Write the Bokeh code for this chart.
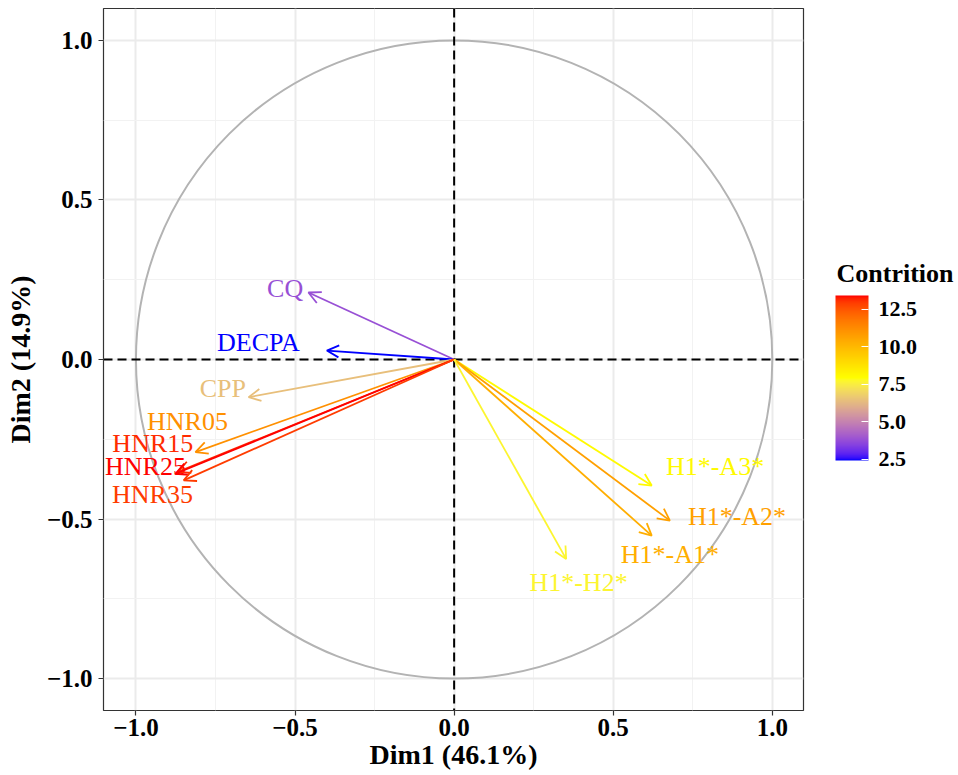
import numpy as np
from bokeh.plotting import figure
from bokeh.layouts import row
from bokeh.models import (ColumnDataSource, Range1d, FixedTicker, ColorBar,
                          LinearColorMapper, Arrow, OpenHead, Span, Label,
                          CustomJSTickFormatter)
from bokeh.transform import linear_cmap
from bokeh.core.properties import value
from bokeh.embed import file_html
from bokeh.resources import INLINE

# Variable coordinates on the first two PCA dimensions
variables = ["CQ", "DECPA", "CPP", "HNR05", "HNR15", "HNR25", "HNR35",
             "H1*-A3*", "H1*-A2*", "H1*-A1*", "H1*-H2*"]
dim1 = [-0.458, -0.400, -0.646, -0.813, -0.868, -0.876, -0.850,
        0.621, 0.678, 0.621, 0.352]
dim2 = [0.210, 0.028, -0.118, -0.290, -0.352, -0.358, -0.379,
        -0.395, -0.505, -0.552, -0.625]
# Contribution of each variable to Dim1-Dim2 (%)
contrib = [3.78, 2.40, 6.43, 11.1, 13.1, 13.4, 12.9,
           8.07, 10.65, 10.3, 7.67]

# Label anchors (repelled text positions)
label_x = [-0.531, -0.615, -0.727, -0.838, -0.947, -0.970, -0.948,
           0.820, 0.889, 0.678, 0.391]
label_y = [0.224, 0.054, -0.092, -0.193, -0.263, -0.335, -0.423,
           -0.335, -0.492, -0.611, -0.700]

axis_ticks = [-1.0, -0.5, 0.0, 0.5, 1.0]
axis_minor = [-0.75, -0.25, 0.25, 0.75]
legend_ticks = [2.5, 5.0, 7.5, 10.0, 12.5]
legend_title = "Contrition"
gradient_stops = ["#0000FF", "#FFFF00", "#FF0000"]

FONT = "Liberation Serif"
HEIGHT = 775
FRAME_H = 702   # panel height (775 - top 8 - bottom 65)


# ---- colour gradient interpolated in CIE Lab (like scales::gradient_n_pal)
def _hex_to_rgb(h):
    h = h.lstrip("#")
    return np.array([int(h[i:i + 2], 16) / 255.0 for i in (0, 2, 4)])


_M = np.array([[0.4124564, 0.3575761, 0.1804375],
               [0.2126729, 0.7151522, 0.0721750],
               [0.0193339, 0.1191920, 0.9503041]])
_MI = np.linalg.inv(_M)
_WHITE = _M @ np.ones(3)


def _rgb_to_lab(rgb):
    lin = np.where(rgb <= 0.04045, rgb / 12.92, ((rgb + 0.055) / 1.055) ** 2.4)
    xyz = (_M @ lin) / _WHITE
    f = np.where(xyz > 216 / 24389, np.cbrt(xyz), (24389 / 27 * xyz + 16) / 116)
    return np.array([116 * f[1] - 16, 500 * (f[0] - f[1]), 200 * (f[1] - f[2])])


def _lab_to_hex(lab):
    L, a, b = lab
    fy = (L + 16) / 116
    fx = fy + a / 500
    fz = fy - b / 200
    f = np.array([fx, fy, fz])
    xyz = np.where(f ** 3 > 216 / 24389, f ** 3, (116 * f - 16) / (24389 / 27)) * _WHITE
    lin = _MI @ xyz
    lin = np.clip(lin, 0, 1)
    rgb = np.where(lin <= 0.0031308, 12.92 * lin, 1.055 * lin ** (1 / 2.4) - 0.055)
    rgb = np.clip(np.round(rgb * 255), 0, 255).astype(int)
    return "#%02x%02x%02x" % tuple(rgb)


def lab_gradient(stops, n=256):
    labs = [_rgb_to_lab(_hex_to_rgb(s)) for s in stops]
    out = []
    for t in np.linspace(0, 1, n):
        pos = t * (len(labs) - 1)
        i = min(int(pos), len(labs) - 2)
        u = pos - i
        out.append(_lab_to_hex(labs[i] * (1 - u) + labs[i + 1] * u))
    return out


palette = lab_gradient(gradient_stops)
lo, hi = min(contrib), max(contrib)
cmap = linear_cmap("contrib", palette, lo, hi)

src = ColumnDataSource(dict(name=variables, x=dim1, y=dim2, contrib=contrib,
                            lx=label_x, ly=label_y))

# ---------------- main correlation-circle panel
p = figure(width=805, height=HEIGHT, output_backend="svg", toolbar_location=None,
           x_range=Range1d(-1.102, 1.098), y_range=Range1d(-1.10, 1.10),
           min_border_left=103, min_border_right=2, min_border_top=8,
           min_border_bottom=65)
p.background_fill_color = "white"
p.border_fill_color = "white"
p.outline_line_color = "#333333"
p.outline_line_width = 1.2

tick_fmt = CustomJSTickFormatter(code="return tick.toFixed(1).replace('-', '\u2212');")
for ax in (p.xaxis, p.yaxis):
    ax.ticker = FixedTicker(ticks=axis_ticks, minor_ticks=axis_minor)
    ax.formatter = tick_fmt
    ax.axis_line_color = None
    ax.major_tick_line_color = "#333333"
    ax.major_tick_line_width = 1.2
    ax.major_tick_out = 5
    ax.major_tick_in = 0
    ax.minor_tick_line_color = None
    ax.major_label_text_font = FONT
    ax.major_label_text_font_style = "bold"
    ax.major_label_text_font_size = "25px"
    ax.major_label_text_color = "black"
    ax.axis_label_text_font = FONT
    ax.axis_label_text_font_style = "bold"
    ax.axis_label_text_font_size = "28px"
    ax.axis_label_text_color = "black"
p.xaxis.axis_label = "Dim1 (46.1%)"
p.yaxis.axis_label = "Dim2 (14.9%)"
p.xaxis.major_label_standoff = 3
p.yaxis.major_label_standoff = 6
p.xaxis.axis_label_standoff = 0
p.yaxis.axis_label_standoff = 8

for g in (p.xgrid, p.ygrid):
    g.grid_line_color = "#ebebeb"
    g.grid_line_width = 2
    g.minor_grid_line_color = "#f2f2f2"
    g.minor_grid_line_width = 1

# correlation circle
p.ellipse(x=0, y=0, width=2, height=2, fill_color=None,
          line_color="#b3b3b3", line_width=2)

# zero reference lines
p.add_layout(Span(location=0, dimension="width", line_color="black",
                  line_dash="9 5", line_width=2))
p.add_layout(Span(location=0, dimension="height", line_color="black",
                  line_dash="9 5", line_width=2))

# variable arrows
p.add_layout(Arrow(source=src, x_start=0, y_start=0, x_end="x", y_end="y",
                   line_color=cmap, line_width=1.8,
                   end=OpenHead(size=12, line_color=cmap, line_width=1.8)))

p.text(x="lx", y="ly", text="name", source=src, text_color=cmap,
       text_font=value(FONT), text_font_size="26px",
       text_align="center", text_baseline="middle")

# ---------------- legend panel (pixel coordinates, frame aligned with the main panel)
leg = figure(width=153, height=HEIGHT, output_backend="svg", toolbar_location=None,
             x_range=Range1d(0, 153), y_range=Range1d(0, FRAME_H),
             min_border=0)
leg.axis.visible = False
leg.grid.visible = False
leg.outline_line_color = None
leg.background_fill_color = "white"
leg.border_fill_color = "white"

mapper = LinearColorMapper(palette=palette, low=lo, high=hi)
cb = ColorBar(color_mapper=mapper, ticker=FixedTicker(ticks=legend_ticks),
              formatter=tick_fmt, width=33, height=165,
              major_label_text_font=FONT, major_label_text_font_style="bold",
              major_label_text_font_size="22px", major_label_text_color="black",
              major_tick_line_color="white", major_tick_in=7, major_tick_out=0,
              label_standoff=10, bar_line_color=None, border_line_color=None,
              background_fill_color=None, padding=0, margin=0,
              location=(30, 250))
leg.add_layout(cb, "center")

leg.add_layout(Label(x=31, y=437, text=legend_title, text_font=FONT,
                     text_font_style="bold", text_font_size="26px",
                     text_color="black", text_baseline="alphabetic"))

layout = row(p, leg, spacing=0)
open("out.html", "w").write(file_html(layout, INLINE))
